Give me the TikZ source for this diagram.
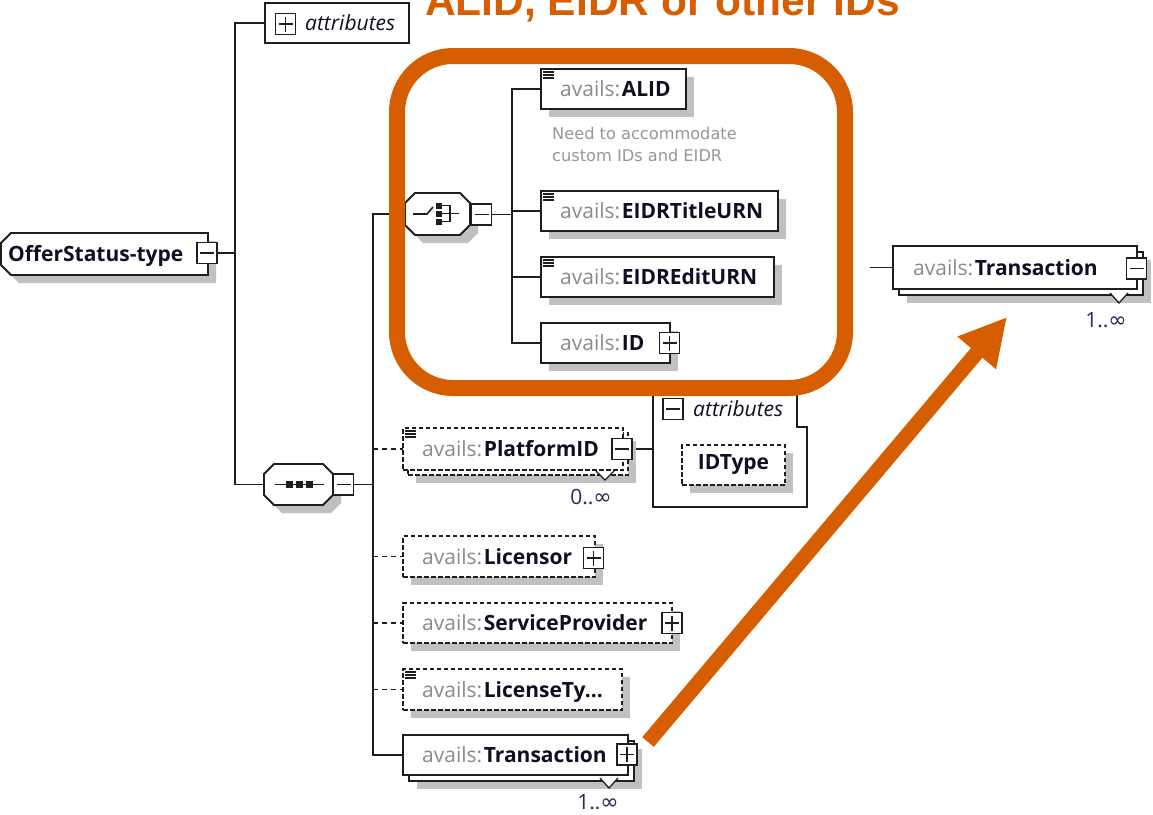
\documentclass[tikz,border=0pt]{standalone}
\usepackage{fontspec}
\setmainfont{Open Sans}
\newfontfamily\djv{DejaVu Sans}
\newfontfamily\arialf{Liberation Sans}
\usetikzlibrary{arrows.meta,shadows,calc}
\definecolor{org}{RGB}{214,94,0}
\definecolor{shg}{RGB}{192,192,192}
\definecolor{avg}{RGB}{138,138,138}
\definecolor{namec}{RGB}{15,15,35}
\definecolor{numc}{RGB}{40,40,90}
\definecolor{notec}{RGB}{150,150,150}
\definecolor{linec}{RGB}{30,30,30}
\newcommand\fs{\fontsize{21}{25}\selectfont}
\newcommand\avn[1]{{\color{avg}avails:}\hspace{1.5pt}{\bfseries\color{namec}#1}}
\newcommand\mult[1]{{\color{numc}#1{\djv\fontsize{22}{22}\selectfont ∞}}}
\newcommand\myoct[2][]{\draw[#1] ([xshift=10pt]#2.north west) -- ([xshift=-10pt]#2.north east) -- ([yshift=-10pt]#2.north east) -- ([yshift=10pt]#2.south east) -- ([xshift=-10pt]#2.south east) -- ([xshift=10pt]#2.south west) -- ([yshift=10pt]#2.south west) -- ([yshift=-10pt]#2.north west) -- cycle;}
\newcommand\docic[1]{\foreach \dd in {-3pt,-6pt,-9pt}{\draw[line width=1.4pt, linec] ([xshift=2pt,yshift=\dd]#1.north west) -- ++(11pt,0pt);}}
\newcommand\vmark[3]{\fill[white] (#1-9,#2) -- (#1,#2+#3) -- (#1+9,#2) -- cycle; \draw[line width=1.3pt, linec] (#1-9,#2) -- (#1,#2+#3) -- (#1+9,#2);}
\begin{document}
\begin{tikzpicture}[x=1pt,y=-1pt,
  conn/.style={draw=linec, line width=1.7pt},
  dconn/.style={conn, dash pattern=on 5pt off 4pt},
  elb/.style={draw=linec, line width=1.8pt, fill=white, inner sep=0pt, outer sep=0pt, rectangle},
  optb/.style={elb, dash pattern=on 4.5pt off 2.5pt},
  shd/.style={drop shadow={shadow xshift=8pt, shadow yshift=-8pt, fill=shg, opacity=1}},
  area/.style={inner sep=0pt, outer sep=0pt, rectangle},
  tx/.style={anchor=base west, inner sep=0pt, font=\fs},
  pmb/.style={draw=linec, line width=1.7pt, fill=white, minimum width=20pt, minimum height=21pt, inner sep=0pt, outer sep=0pt},
  minus/.style={pmb, path picture={\draw[linec, line width=1.6pt] ([xshift=3pt]path picture bounding box.west) -- ([xshift=-3pt]path picture bounding box.east);}},
  plus/.style={pmb, path picture={\draw[linec, line width=1.6pt] ([xshift=3pt]path picture bounding box.west) -- ([xshift=-3pt]path picture bounding box.east) ([yshift=-3pt]path picture bounding box.north) -- ([yshift=3pt]path picture bounding box.south);}},
]
\useasboundingbox (0,0) rectangle (1153,814);

% ---------- anchor areas (invisible) ----------
\node[area, minimum width=207pt, minimum height=42pt] (offer) at (104.5,254) {};
\node[area, minimum width=69pt, minimum height=41pt] (seq) at (298.5,484.5) {};
\node[area, minimum width=65pt, minimum height=42pt] (cho) at (437.5,214) {};
\node[area, minimum width=154pt, minimum height=115pt] (attrG) at (730,449.5) {};
\coordinate (bus1) at (235,0);
\coordinate (bus2) at (373,0);
\coordinate (bus3) at (512,0);
\coordinate (stub) at (870,267.5);

% positions of element boxes (used by connectors)
\node[area, minimum width=144pt, minimum height=40pt] (attrT) at (337,23) {};
\node[area, minimum width=145pt, minimum height=40pt] (alid) at (613.5,89) {};
\node[area, minimum width=237pt, minimum height=40pt] (eidrt) at (659.5,211) {};
\node[area, minimum width=233pt, minimum height=40pt] (eidre) at (657.5,277) {};
\node[area, minimum width=129pt, minimum height=40pt] (idb) at (605.5,343) {};
\node[area, minimum width=220pt, minimum height=42pt] (plat) at (513,449) {};
\node[area, minimum width=192pt, minimum height=41pt] (lic) at (499,556.5) {};
\node[area, minimum width=269pt, minimum height=40pt] (sp) at (537.5,623) {};
\node[area, minimum width=219pt, minimum height=41pt] (lt) at (512.5,689.5) {};
\node[area, minimum width=225pt, minimum height=40pt] (trB) at (515.5,755) {};
\node[area, minimum width=244pt, minimum height=43pt] (trR) at (1015,267.5) {};
\node[minus] (offerpm) at (207,253) {};
\node[minus] (seqpm) at (343.5,484.5) {};
\node[minus] (chopm) at (481.5,214.5) {};
\node[minus] (platpm) at (622,449) {};

% ---------- connectors ----------
\draw[conn] (offerpm.east) -- (offerpm.east -| bus1);
\draw[conn] (attrT.west) -| (bus1 |- seq.west) -- (seq.west);
\draw[conn] (seqpm.east) -- (seqpm.east -| bus2);
\draw[conn] (cho.west) -| (bus2 |- trB.west) -- (trB.west);
\draw[dconn] (bus2 |- plat.west) -- (plat.west);
\draw[dconn] (bus2 |- lic.west) -- (lic.west);
\draw[dconn] (bus2 |- sp.west) -- (sp.west);
\draw[dconn] (bus2 |- lt.west) -- (lt.west);
\draw[conn] (chopm.east) -- (chopm.east -| bus3);
\draw[conn] (alid.west) -| (bus3 |- idb.west) -- (idb.west);
\draw[conn] (eidrt.west) -- (eidrt.west -| bus3);
\draw[conn] (eidre.west) -- (eidre.west -| bus3);
\draw[conn] (platpm.east) -- (platpm.east -| attrG.west);
\draw[conn] (stub) -- (trR.west);

% ---------- top attributes ----------
\node[elb, minimum width=144pt, minimum height=40pt] at (attrT) {};
\node[plus] (attrTpm) at (285.5,24) {};
\node[tx, font=\fs\itshape, text=namec] (attrTt) at (305,30.5) {attributes};

% ---------- OfferStatus-type ----------
\draw[elb, shd] ([xshift=10pt]offer.north west) -- (offer.north east) -- (offer.south east) -- ([xshift=10pt]offer.south west) -- ([yshift=10pt]offer.south west) -- ([yshift=-10pt]offer.north west) -- cycle;
\node[tx, font=\fs\bfseries, text=namec] (offerT) at (8,261.5) {OfferStatus-type};
\node[minus] at (offerpm) {};

% ---------- sequence compositor ----------
\myoct[elb, shd]{seq}
\draw[line width=1.6pt, linec] (275,484.5) -- (324,484.5);
\foreach \sx in {289,299,309}{\fill[linec] (\sx-3.5,481) rectangle (\sx+3.5,488);}
\node[minus] at (seqpm) {};

% ---------- choice compositor ----------
\myoct[elb, shd]{cho}
\draw[line width=1.6pt, linec] (413,214) -- (427,214) -- (433,207);
\foreach \sy in {205.5,213.5,221.5}{\fill[linec] (436,\sy-3) rectangle (441.5,\sy+3);}
\draw[line width=1.5pt, linec] (441,205.5) -- (450,205.5) -- (450,221.5) -- (441,221.5) (441,213.5) -- (459,213.5);
\node[minus] at (chopm) {};

% ---------- choice children ----------
\node[elb, shd, minimum width=145pt, minimum height=40pt] at (alid) {};
\docic{alid}
\node[tx] (alidT) at (560,96.5) {\avn{ALID}};
\node[anchor=base west, inner sep=0pt, font=\djv\fontsize{16.2}{20}\selectfont, text=notec] (note1) at (552,139.5) {Need to accommodate};
\node[anchor=base west, inner sep=0pt, font=\djv\fontsize{16.2}{20}\selectfont, text=notec] (note2) at (552,161.5) {custom IDs and EIDR};

\node[elb, shd, minimum width=237pt, minimum height=40pt] at (eidrt) {};
\docic{eidrt}
\node[tx] (eidrtT) at (560,218.5) {\avn{EIDRTitleURN}};

\node[elb, shd, minimum width=233pt, minimum height=40pt] at (eidre) {};
\docic{eidre}
\node[tx] (eidreT) at (560,284.5) {\avn{EIDREditURN}};

\node[elb, shd, minimum width=129pt, minimum height=40pt] at (idb) {};
\node[tx] (idT) at (560,350.5) {\avn{ID}};
\node[plus] (idpm) at (669.5,343) {};

% ---------- PlatformID ----------
\node[optb, shd, minimum width=220pt, minimum height=42pt] (platB) at (518,454) {};
\node[optb, minimum width=220pt, minimum height=42pt] at (plat) {};
\docic{plat}
\node[tx] (platT) at (422,456.5) {\avn{PlatformID}};
\node[minus] at (platpm) {};
\vmark{605}{471}{9}
\node[font=\fs, inner sep=0pt] (m0) at (591,497) {\mult{0..}};

% attributes group
\draw[elb] (attrG.north west) -- ([xshift=-10pt]attrG.north east) -- ([xshift=-10pt,yshift=-35pt]attrG.north east) -- ([yshift=-35pt]attrG.north east) -- (attrG.south east) -- (attrG.south west) -- cycle;
\node[minus] (attrGpm) at (673,409) {};
\node[tx, font=\fs\itshape, text=namec] (attrGt) at (693,416.5) {attributes};
\node[optb, shd, minimum width=103pt, minimum height=40pt, font=\fs\bfseries, text=namec] (idtype) at (733.5,465) {IDType};

% ---------- Licensor ----------
\node[optb, shd, minimum width=192pt, minimum height=41pt] at (lic) {};
\node[tx] (licT) at (422,564) {\avn{Licensor}};
\node[plus] (licpm) at (593.5,558) {};

% ---------- ServiceProvider ----------
\node[optb, shd, minimum width=269pt, minimum height=40pt] at (sp) {};
\node[tx] (spT) at (422,630.5) {\avn{ServiceProvider}};
\node[plus] (sppm) at (672,623) {};

% ---------- LicenseTy... ----------
\node[optb, shd, minimum width=219pt, minimum height=41pt] at (lt) {};
\docic{lt}
\node[tx] (ltT) at (422,697) {\avn{LicenseTy...}};

% ---------- Transaction (bottom) ----------
\node[elb, shd, minimum width=225pt, minimum height=40pt] (trBb) at (521.5,761) {};
\node[elb, minimum width=225pt, minimum height=40pt] at (trB) {};
\node[tx] (trBT) at (422,762.5) {\avn{Transaction}};
\node[plus] (trBpm) at (627,754.5) {};
\vmark{609}{778}{10}
\node[font=\fs, inner sep=0pt] (m1) at (598,802) {\mult{1..}};

% ---------- Transaction (right) ----------
\node[elb, shd, minimum width=244pt, minimum height=43pt] (trRb) at (1021,273.5) {};
\node[elb, minimum width=244pt, minimum height=43pt] at (trR) {};
\node[tx] (trRT) at (913,275) {\avn{Transaction}};
\node[minus] (trRpm) at (1136.5,268.5) {};
\vmark{1119}{293}{10}
\node[font=\fs, inner sep=0pt] (m2) at (1106,320) {\mult{1..}};

% ---------- highlight ----------
\draw[org, line width=16pt, rounded corners=56pt] (397,56) rectangle (845,388);
\coordinate (arrS) at (648,742);
\coordinate (arrE) at (1007,317);
\draw[org, line width=15pt, -{Triangle[length=47pt,width=47pt]}] (arrS) -- (arrE);
\node[anchor=base, inner sep=0pt, font=\arialf\bfseries\fontsize{42.5}{44}\selectfont, text=org] (title) at (662.5,15) {ALID, EIDR or other IDs};
\end{tikzpicture}
\end{document}
